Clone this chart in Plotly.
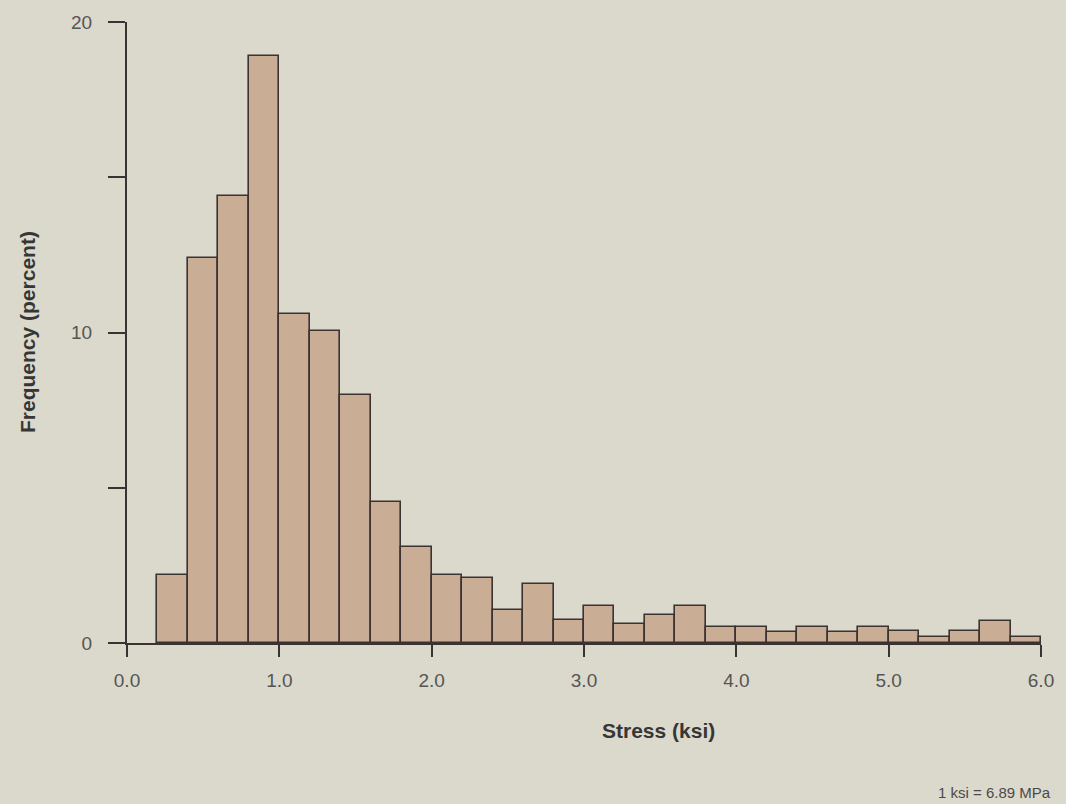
import plotly.graph_objects as go

# Bin centres (ksi), bin width 0.2
bin_centers = [0.3, 0.5, 0.7, 0.9, 1.1, 1.3, 1.5, 1.7, 1.9, 2.1,
               2.3, 2.5, 2.7, 2.9, 3.1, 3.3, 3.5, 3.7, 3.9, 4.1,
               4.3, 4.5, 4.7, 4.9, 5.1, 5.3, 5.5, 5.7, 5.9]
frequency = [2.2, 12.4, 14.4, 18.9, 10.6, 10.05, 8.0, 4.55, 3.1, 2.2,
             2.1, 1.05, 1.9, 0.75, 1.2, 0.6, 0.9, 1.2, 0.5, 0.5,
             0.35, 0.5, 0.37, 0.5, 0.38, 0.2, 0.38, 0.7, 0.2]
bin_width = 0.2

x_tickvals = [0, 1, 2, 3, 4, 5, 6]
x_ticktext = ["0.0", "1.0", "2.0", "3.0", "4.0", "5.0", "6.0"]
y_tickvals = [0, 5, 10, 15, 20]
y_ticktext = ["0", "", "10", "", "20"]

BG = "#dbd9cb"
BAR = "#c9ad95"
EDGE = "#3b3232"
FONT = "Liberation Sans"

L, R, T, B = 127, 16, 22, 161
PW = 1066 - L - R
PH = 804 - T - B


def px(xp):
    return (xp - L) / PW


def py(yp):
    return (804 - B - yp) / PH


fig = go.Figure()
fig.add_trace(go.Bar(
    x=bin_centers, y=frequency, width=bin_width,
    marker=dict(color=BAR, line=dict(color=EDGE, width=1.6)),
    hoverinfo="x+y", showlegend=False,
))

fig.update_layout(
    width=1066, height=804,
    paper_bgcolor=BG, plot_bgcolor=BG,
    margin=dict(l=L, r=R, t=T, b=B),
    font=dict(family=FONT, color="#4a4a4a", size=15),
    bargap=0,
    xaxis=dict(
        range=[0, 6], tickvals=x_tickvals, ticktext=x_ticktext,
        showgrid=False, zeroline=False, showline=True, linecolor=EDGE, linewidth=2,
        ticks="outside", ticklen=12, tickwidth=2, tickcolor=EDGE,
        ticklabelstandoff=7,
        tickfont=dict(family=FONT, size=19, color="#555555"),
    ),
    yaxis=dict(
        range=[0, 20], tickvals=y_tickvals, ticktext=y_ticktext,
        showgrid=False, zeroline=False, showline=True, linecolor=EDGE, linewidth=2,
        ticks="outside", ticklen=17, tickwidth=2, tickcolor=EDGE,
        ticklabelstandoff=12,
        tickfont=dict(family=FONT, size=19, color="#555555"),
    ),
    annotations=[
        dict(text="<b>Stress (ksi)</b>", xref="paper", yref="paper",
             x=px(664), y=py(730),
             showarrow=False, font=dict(family=FONT, size=21, color="#363636"),
             xanchor="center", yanchor="middle"),
        dict(text="<b>Frequency (percent)</b>", xref="paper", yref="paper",
             x=px(26), y=py(332),
             textangle=-90, showarrow=False,
             font=dict(family=FONT, size=21, color="#363636"),
             xanchor="center", yanchor="middle"),
        dict(text="1 ksi = 6.89 MPa", xref="paper", yref="paper",
             x=px(1062), y=py(792),
             showarrow=False, font=dict(family=FONT, size=15, color="#4a4a4a"),
             xanchor="right", yanchor="middle"),
    ],
)

fig.write_html("out.html")
